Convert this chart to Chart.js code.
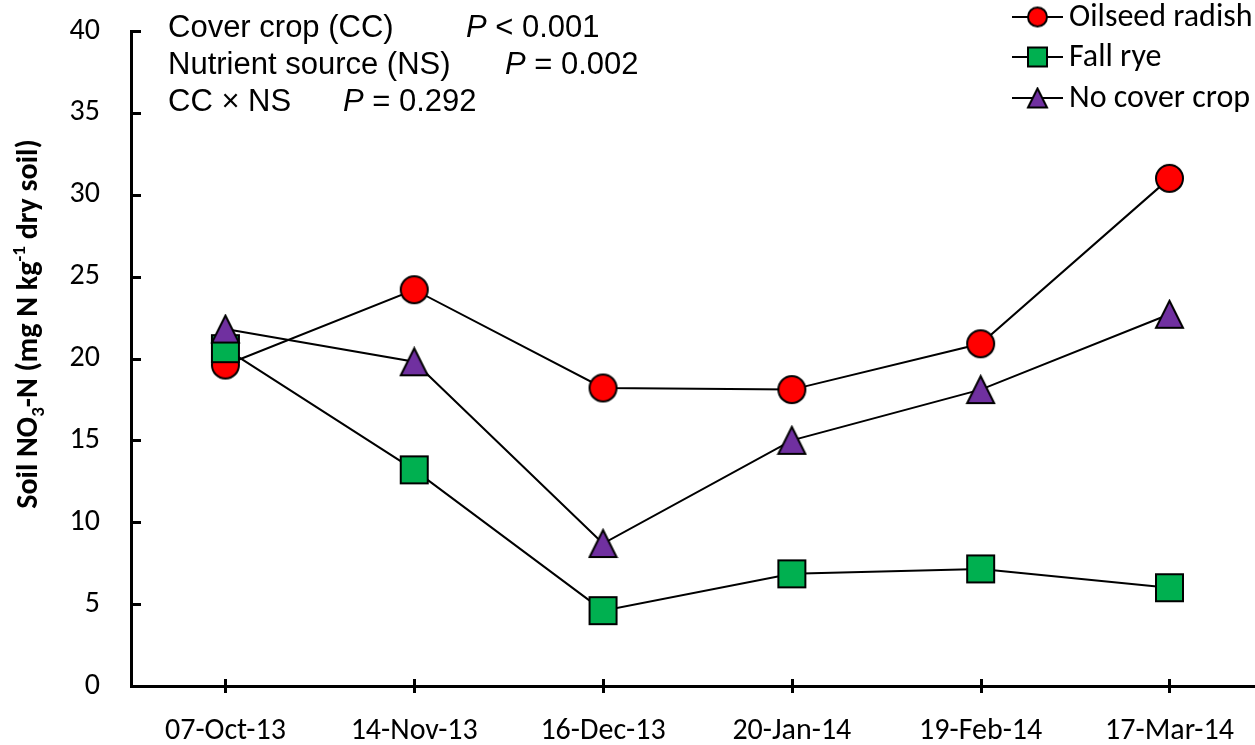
<!DOCTYPE html>
<html>
<head>
<meta charset="utf-8">
<script src="https://cdn.jsdelivr.net/npm/chart.js@4"></script>
<style>
  body { margin: 0; background: #fff; overflow: hidden; }
</style>
</head>
<body>
<canvas id="chart" width="1255" height="745"></canvas>
<script>
// sampling dates and soil NO3-N per cover crop (mg N / kg dry soil)
const dates = ["07-Oct-13", "14-Nov-13", "16-Dec-13", "20-Jan-14", "19-Feb-14", "17-Mar-14"];
const radish = [19.6, 24.2, 18.2, 18.1, 20.9, 31.0];
const rye = [20.6, 13.2, 4.6, 6.85, 7.15, 6.0];
const noCover = [21.8, 19.8, 8.7, 15.0, 18.1, 22.7];
const seriesNames = ["Oilseed radish", "Fall rye", "No cover crop"];

const CAL = "Carlito, Calibri, Lato, sans-serif";
const ARIAL = "'Liberation Sans', Arial, sans-serif";

// marker drawn on its own canvas so it sits centred on the point like in Excel
function makeMarker(shape, size, fill) {
  const pad = 2;
  const c = document.createElement("canvas");
  c.width = size + pad * 2;
  c.height = size + pad * 2;
  const g = c.getContext("2d");
  g.fillStyle = fill;
  g.strokeStyle = "#000";
  g.lineWidth = 2;
  g.beginPath();
  if (shape === "circle") {
    g.arc(pad + size / 2, pad + size / 2, size / 2, 0, Math.PI * 2);
  } else if (shape === "square") {
    g.rect(pad, pad, size, size);
  } else {
    g.moveTo(pad + size / 2, pad);
    g.lineTo(pad + size, pad + size);
    g.lineTo(pad, pad + size);
    g.closePath();
  }
  g.fill();
  g.stroke();
  return c;
}

const shapes = ["circle", "square", "triangle"];
const fills = ["#FF0000", "#00B050", "#7030A0"];
const bigMarkers = shapes.map((s, i) => makeMarker(s, 27, fills[i]));
const smallMarkers = shapes.map((s, i) => makeMarker(s, 19, fills[i]));

const toPoints = arr => arr.map((v, i) => ({ x: i, y: v }));

// ticks, stats text, legend and axis title
const decor = {
  id: "decor",
  beforeDatasetsDraw(chart) {
    const ctx = chart.ctx;
    const area = chart.chartArea;
    const xs = chart.scales.x, ys = chart.scales.y;
    ctx.save();
    ctx.strokeStyle = "#000";
    ctx.lineWidth = 3;
    ys.ticks.forEach(t => {
      const py = Math.round(ys.getPixelForValue(t.value)) + 0.5;
      ctx.beginPath();
      ctx.moveTo(area.left, py);
      ctx.lineTo(area.left + 10, py);
      ctx.stroke();
    });
    xs.ticks.forEach(t => {
      const px = Math.round(xs.getPixelForValue(t.value)) + 0.5;
      ctx.beginPath();
      ctx.moveTo(px, area.bottom - 7);
      ctx.lineTo(px, area.bottom + 7);
      ctx.stroke();
    });
    ctx.restore();
  },
  afterDraw(chart) {
    const ctx = chart.ctx;
    ctx.save();
    ctx.fillStyle = "#000";
    ctx.textBaseline = "alphabetic";

    // stats
    const stats = [
      ["Cover crop (CC)", 466, " < 0.001", 37],
      ["Nutrient source (NS)", 505, " = 0.002", 74],
      ["CC \u00d7 NS", 343, " = 0.292", 111]
    ];
    stats.forEach(([label, px, rest, y]) => {
      ctx.font = "31px " + ARIAL;
      ctx.fillText(label, 168, y);
      ctx.font = "italic 31px " + ARIAL;
      ctx.fillText("P", px, y);
      const w = ctx.measureText("P").width;
      ctx.font = "31px " + ARIAL;
      ctx.fillText(rest, px + w, y);
    });

    // legend
    const rows = [17, 57, 98];
    ctx.font = "32px " + CAL;
    ctx.textBaseline = "middle";
    rows.forEach((ry, i) => {
      ctx.strokeStyle = "#000";
      ctx.lineWidth = 2;
      ctx.beginPath();
      ctx.moveTo(1012, ry);
      ctx.lineTo(1063, ry);
      ctx.stroke();
      const m = smallMarkers[i];
      ctx.drawImage(m, 1037.5 - m.width / 2, ry - m.height / 2);
      ctx.fillText(seriesNames[i], 1069, ry + 1);
    });

    // y axis title with sub/superscripts
    const fs = 30;
    const parts = [
      ["Soil NO", 0, 1],
      ["3", 7, 0.62],
      ["-N (mg N kg", 0, 1],
      ["-1", -12, 0.62],
      [" dry soil)", 0, 1]
    ];
    let total = 0;
    parts.forEach(p => {
      ctx.font = "bold " + Math.round(fs * p[2]) + "px " + CAL;
      total += ctx.measureText(p[0]).width;
    });
    ctx.translate(37, 324);
    ctx.rotate(-Math.PI / 2);
    ctx.textBaseline = "alphabetic";
    let x = -total / 2;
    parts.forEach(p => {
      ctx.font = "bold " + Math.round(fs * p[2]) + "px " + CAL;
      ctx.fillText(p[0], x, p[1]);
      x += ctx.measureText(p[0]).width;
    });
    ctx.restore();
  }
};

const ctx = document.getElementById("chart").getContext("2d");

new Chart(ctx, {
  type: "line",
  data: {
    datasets: [
      { label: seriesNames[0], data: toPoints(radish), pointStyle: bigMarkers[0], order: 3 },
      { label: seriesNames[1], data: toPoints(rye), pointStyle: bigMarkers[1], order: 2 },
      { label: seriesNames[2], data: toPoints(noCover), pointStyle: bigMarkers[2], order: 1 }
    ].map(d => Object.assign(d, {
      borderColor: "#000",
      borderWidth: 2,
      pointRadius: 14,
      pointHoverRadius: 14,
      tension: 0
    }))
  },
  options: {
    responsive: false,
    animation: false,
    events: [],
    layout: { autoPadding: false, padding: { top: 31, right: 0, left: 0, bottom: 0 } },
    plugins: { legend: { display: false }, tooltip: { enabled: false } },
    scales: {
      x: {
        type: "linear",
        min: -0.5,
        max: 5.453,
        bounds: "data",
        afterBuildTicks: s => { s.ticks = dates.map((d, i) => ({ value: i })); },
        afterFit: s => { s.height = 59; s.paddingLeft = 0; s.paddingRight = 0; },
        grid: { display: false, drawTicks: false },
        border: { display: true, color: "#000", width: 3 },
        ticks: {
          autoSkip: false,
          maxRotation: 0,
          padding: 27,
          color: "#000",
          font: { family: CAL, size: 30 },
          callback: v => dates[v]
        }
      },
      y: {
        min: 0,
        max: 40,
        afterFit: s => { s.width = 131; s.paddingTop = 0; s.paddingBottom = 0; },
        grid: { display: false, drawTicks: false },
        border: { display: true, color: "#000", width: 3 },
        ticks: {
          stepSize: 5,
          padding: 31,
          color: "#000",
          font: { family: CAL, size: 30 }
        }
      }
    }
  },
  plugins: [decor]
});
</script>
</body>
</html>
